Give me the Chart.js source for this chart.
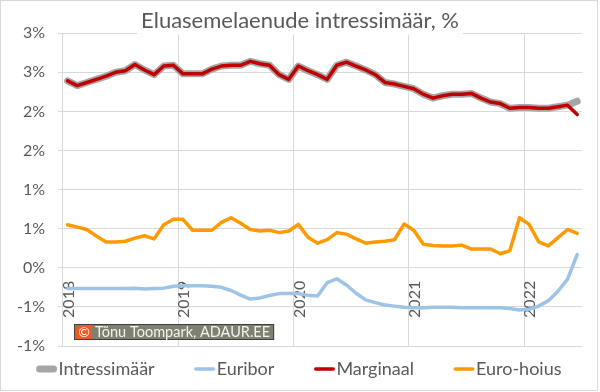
<!DOCTYPE html>
<html><head><meta charset="utf-8">
<script src="https://cdn.jsdelivr.net/npm/chart.js@4.4.1/dist/chart.umd.min.js"></script>
<style>html,body{margin:0;padding:0;background:#fff;}canvas{display:block;}</style>
</head><body>
<canvas id="c" width="600" height="392"></canvas>
<script>
const months = [
 '2018-01','2018-02','2018-03','2018-04','2018-05','2018-06','2018-07','2018-08','2018-09','2018-10','2018-11','2018-12',
 '2019-01','2019-02','2019-03','2019-04','2019-05','2019-06','2019-07','2019-08','2019-09','2019-10','2019-11','2019-12',
 '2020-01','2020-02','2020-03','2020-04','2020-05','2020-06','2020-07','2020-08','2020-09','2020-10','2020-11','2020-12',
 '2021-01','2021-02','2021-03','2021-04','2021-05','2021-06','2021-07','2021-08','2021-09','2021-10','2021-11','2021-12',
 '2022-01','2022-02','2022-03','2022-04','2022-05','2022-06'];
const marginaal = [2.39,2.33,2.37,2.41,2.45,2.50,2.52,2.60,2.53,2.47,
 2.58,2.59,2.48,2.48,2.48,2.54,2.58,2.59,2.59,2.64,
 2.61,2.59,2.47,2.41,2.58,2.52,2.47,2.41,2.59,2.63,
 2.58,2.53,2.47,2.37,2.35,2.32,2.29,2.22,2.17,2.20,
 2.22,2.22,2.23,2.17,2.12,2.10,2.04,2.05,2.05,2.04,
 2.04,2.06,2.08,1.96];
const intressimaar = [2.39,2.33,2.37,2.41,2.45,2.50,2.52,2.60,2.53,2.47,
 2.58,2.59,2.48,2.48,2.48,2.54,2.58,2.59,2.59,2.64,
 2.61,2.59,2.47,2.41,2.58,2.52,2.47,2.41,2.59,2.63,
 2.58,2.53,2.47,2.37,2.35,2.32,2.29,2.22,2.17,2.20,
 2.22,2.22,2.23,2.17,2.12,2.10,2.04,2.05,2.05,2.04,
 2.04,2.06,2.08,2.13];
const euribor = [-0.265,-0.265,-0.265,-0.265,-0.265,-0.265,-0.265,-0.26,-0.27,-0.265,
 -0.26,-0.235,-0.23,-0.23,-0.23,-0.235,-0.25,-0.29,-0.35,-0.40,
 -0.385,-0.355,-0.33,-0.33,-0.33,-0.35,-0.36,-0.19,-0.14,-0.22,
 -0.325,-0.41,-0.445,-0.475,-0.49,-0.505,-0.51,-0.51,-0.505,-0.505,
 -0.505,-0.51,-0.51,-0.51,-0.51,-0.51,-0.52,-0.54,-0.53,-0.49,
 -0.42,-0.30,-0.145,0.17];
const euroHoius = [0.55,0.52,0.49,0.405,0.33,0.33,0.34,0.38,0.41,0.37,
 0.55,0.62,0.62,0.48,0.48,0.48,0.58,0.64,0.57,0.49,
 0.47,0.48,0.45,0.47,0.555,0.39,0.315,0.36,0.45,0.43,
 0.37,0.315,0.33,0.34,0.36,0.56,0.48,0.30,0.285,0.28,
 0.28,0.29,0.24,0.24,0.24,0.18,0.22,0.64,0.555,0.33,
 0.28,0.385,0.49,0.44];
const yearLabels = ['2018','2019','2020','2021','2022'];
const yTickLabels = ['-1%','-1%','0%','1%','1%','2%','2%','3%','3%'];
const seriesNames = ['Intressimäär','Euribor','Marginaal','Euro-hoius'];
const titleText = 'Eluasemelaenude intressimäär, %';
const creditText = 'Tõnu Toompark, ADAUR.EE';

const FONT = 'Lato';
const TXT = '#595959';
const GRID = '#D9D9D9';
const TITLE_SIZE = 22;

function legendLine(color, w) {
  const c = document.createElement('canvas');
  c.width = 56; c.height = 12;
  const g = c.getContext('2d');
  g.strokeStyle = color; g.lineWidth = w; g.lineCap = 'round';
  g.beginPath(); g.moveTo(34 + w / 2, 6); g.lineTo(55 - w / 2, 6); g.stroke();
  return c;
}
function series(label, values, color, width, order) {
  return {
    label,
    data: values.map((v, i) => ({ x: i + 0.5, y: v })),
    borderColor: color, backgroundColor: color, borderWidth: width,
    pointRadius: 0, pointHoverRadius: 0, tension: 0, fill: false,
    borderJoinStyle: 'round', borderCapStyle: 'round',
    pointStyle: legendLine(color, width), order
  };
}
const yearTickValues = yearLabels.map(y => months.indexOf(y + '-01'));

const decor = {
  id: 'decor',
  beforeDraw(chart) {
    const { ctx, width, height } = chart;
    ctx.save(); ctx.fillStyle = '#fff'; ctx.fillRect(0, 0, width, height); ctx.restore();
  },
  afterLayout(chart) {
    const lg = chart.legend;
    if (lg) { lg.left -= 14; lg.right -= 14; }
  },
  beforeDatasetsDraw(chart) {
    const { ctx, chartArea } = chart;
    ctx.save();
    ctx.font = TITLE_SIZE + 'px ' + FONT;
    const w = ctx.measureText(titleText).width;
    const cx = (chart.titleBlock.left + chart.titleBlock.right) / 2;
    ctx.fillStyle = '#fff';
    ctx.fillRect(cx - w / 2 - 4, chartArea.top - 2, w + 8, 4);
    ctx.restore();
  },
  afterDraw(chart) {
    const { ctx, chartArea } = chart;
    ctx.save();
    const bx = chartArea.left + 16, by = chartArea.bottom - 22;
    ctx.font = '14.5px ' + FONT;
    const tw = ctx.measureText(creditText).width;
    const bw = 21 + tw + 4;
    ctx.fillStyle = '#808070';
    ctx.fillRect(bx, by, bw, 16);
    ctx.strokeStyle = '#404040'; ctx.lineWidth = 1;
    ctx.strokeRect(bx + 0.5, by + 0.5, bw - 1, 15);
    ctx.fillStyle = '#F05A22';
    ctx.fillRect(bx + 2, by + 2, 16, 13);
    ctx.fillStyle = '#ffffff'; ctx.textAlign = 'center'; ctx.textBaseline = 'middle';
    ctx.font = '14px ' + FONT;
    ctx.fillText('©', bx + 10, by + 8.5);
    ctx.fillStyle = '#F2F2F2'; ctx.textAlign = 'left';
    ctx.font = '14.5px ' + FONT;
    ctx.fillText(creditText, bx + 21, by + 8.5);
    ctx.strokeStyle = GRID; ctx.lineWidth = 1;
    ctx.strokeRect(0.5, 0.5, chart.width - 3, chart.height - 2);
    ctx.restore();
  }
};

new Chart(document.getElementById('c'), {
  type: 'line',
  data: {
    datasets: [
      series(seriesNames[0], intressimaar, '#A6A6A6', 7, 4),
      series(seriesNames[1], euribor, '#9DC3E6', 3.5, 3),
      series(seriesNames[2], marginaal, '#C00000', 3.5, 1),
      series(seriesNames[3], euroHoius, '#FF9900', 3.5, 2)
    ]
  },
  options: {
    responsive: false, animation: false, events: [],
    layout: { padding: { left: 0, right: 0, top: 0, bottom: 4 } },
    scales: {
      x: {
        type: 'linear', min: -0.5, max: months.length,
        position: { y: 0 },
        afterBuildTicks(scale) { scale.ticks = yearTickValues.map(v => ({ value: v })); },
        ticks: {
          autoSkip: false, minRotation: 90, maxRotation: 90, padding: 13, labelOffset: 6,
          color: TXT, font: { family: FONT, size: 16 },
          callback: (v, i) => yearLabels[i]
        },
        grid: { color: GRID, drawTicks: false, lineWidth: 1 },
        border: { display: false }
      },
      y: {
        type: 'linear', min: -1, max: 3, position: 'left',
        afterFit(scale) { scale.width = 58; },
        ticks: {
          stepSize: 0.5, padding: 13, color: TXT, font: { family: FONT, size: 16 },
          callback: (v, i) => yTickLabels[i]
        },
        grid: { color: GRID, drawTicks: false, lineWidth: 1 },
        border: { display: false }
      },
      yRight: {
        type: 'linear', position: 'right', display: true,
        afterFit(scale) { scale.width = 18; },
        ticks: { display: false },
        grid: { display: false, drawTicks: false },
        border: { display: false }
      }
    },
    plugins: {
      title: {
        display: true, text: titleText, color: TXT,
        font: { family: FONT, size: TITLE_SIZE, weight: 'normal', lineHeight: 1.1 },
        padding: { top: 9, bottom: 0 }
      },
      legend: {
        position: 'bottom',
        labels: {
          usePointStyle: true, pointStyleWidth: 39, padding: 14,
          color: TXT, font: { family: FONT, size: 18 },
          sort: (a, b) => a.datasetIndex - b.datasetIndex
        }
      },
      tooltip: { enabled: false }
    }
  },
  plugins: [decor]
});
</script>
</body></html>
